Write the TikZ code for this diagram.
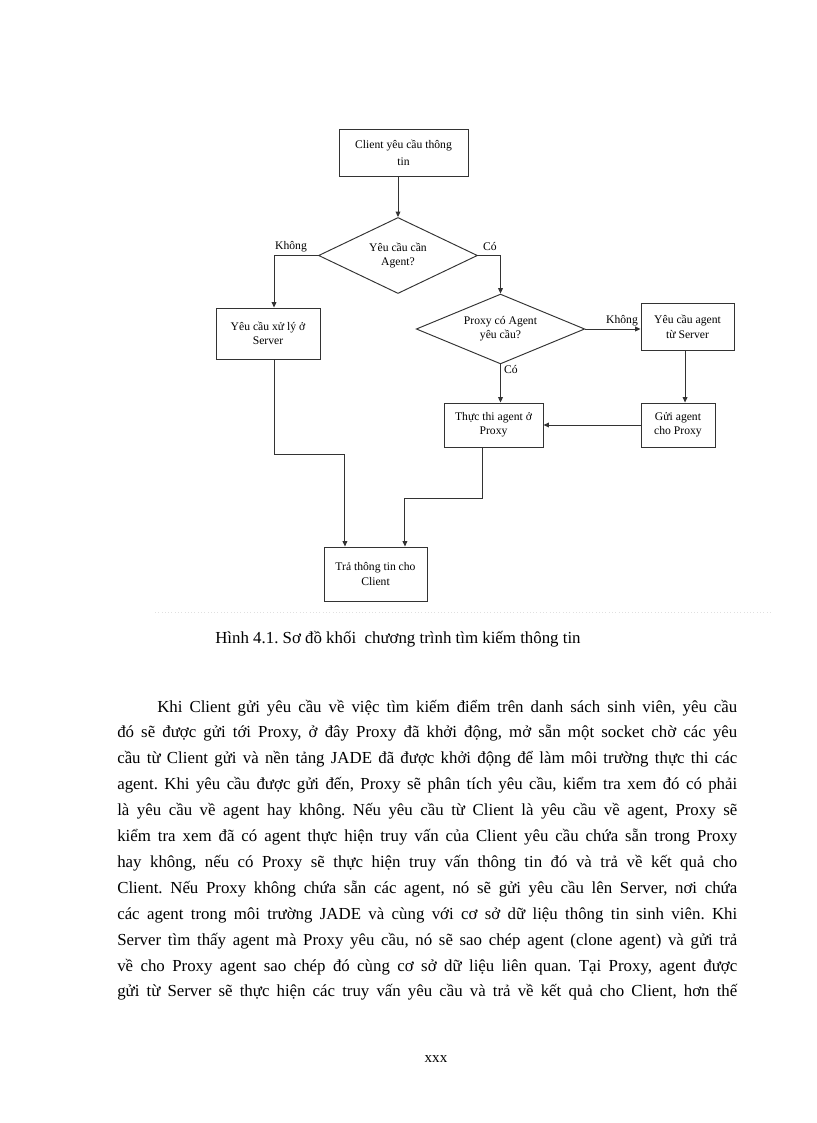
\documentclass[tikz,border=0pt]{standalone}
\usepackage{fontspec}
\setmainfont{Liberation Serif}
\usetikzlibrary{shapes.geometric,arrows.meta}
\frenchspacing
\newcommand{\linecolor}{black!80}
\newcommand{\bodyline}[5]
{   \node[anchor=base west,inner sep=0pt] (#1) at (#2,#3) {\fontsize{12.3}{14}\selectfont\makebox[#4][s]{#5}};
}

\begin{document}
\begin{tikzpicture}[x=0.73pt,y=-0.73pt,
  box/.style={draw=\linecolor,line width=0.7pt,inner sep=1pt,align=center,font=\fontsize{8.5}{10.5}\selectfont},
  ask/.style={diamond,aspect=2,draw=\linecolor,line width=0.7pt,inner sep=0pt,align=center,font=\fontsize{8.5}{10.5}\selectfont},
  flow/.style={draw=\linecolor,line width=0.7pt,-{Triangle[length=4pt,width=3.5pt]}},
  lbl/.style={font=\fontsize{8.5}{10}\selectfont,inner sep=0pt}]
 \useasboundingbox (0,0) rectangle (816,1123);

 \node[box,minimum width=94.2pt,minimum height=35pt] (client) at (403.5,153) {Client yêu cầu thông\\[2pt]tin};
 \node[ask,minimum width=116pt,minimum height=55.5pt] (needagent) at (398,255.5) {Yêu cầu cần\\Agent?};
 \node[box,minimum width=75.9pt,minimum height=37.2pt] (server) at (268,333.5) {Yêu cầu xử lý ở\\Server};
 \node[ask,minimum width=123pt,minimum height=51pt] (hasagent) at (500.5,329) {Proxy có Agent\\yêu cầu?};
 \node[box,minimum width=67.9pt,minimum height=35pt] (askagent) at (687.5,327) {Yêu cầu agent\\từ Server};
 \node[box,minimum width=72.3pt,minimum height=32.1pt] (runagent) at (493.5,425) {Thực thi agent ở\\Proxy};
 \node[box,minimum width=54pt,minimum height=32.1pt] (sendagent) at (678,425) {Gửi agent\\cho Proxy};
 \node[box,minimum width=75.2pt,minimum height=39.4pt] (reply) at (375.5,574) {Trả thông tin cho\\Client};

 \node[lbl] (no1) at (291,247) {Không};
 \node[lbl] (yes1) at (490,247) {Có};
 \node[lbl] (no2) at (622,321) {Không};
 \node[lbl] (yes2) at (511,370) {Có};

 \draw[flow] (client.south -| needagent.north) -- (needagent.north);
 \draw[flow] (needagent.west) -| ([xshift=4.4pt]server.north);
 \draw[flow] (needagent.east) -| (hasagent.north);
 \draw[flow] (hasagent.east) -- (hasagent.east -| askagent.west);
 \draw[flow] (hasagent.south) -- (hasagent.south |- runagent.north);
 \draw[flow] ([xshift=-1.8pt]askagent.south) -- ([xshift=-1.8pt]askagent.south |- sendagent.north);
 \draw[flow] (sendagent.west) -- (runagent.east);
 \draw[flow] ([xshift=4.4pt]server.south) -- ++(0,95) -| ([xshift=-22.3pt]reply.north);
 \draw[flow] ([xshift=-7.7pt]runagent.south) -- ++(0,51) -| ([xshift=21.5pt]reply.north);

 \draw[black!12,dotted] (155,612) -- (770,612);
 \node[anchor=base west,inner sep=0pt,font=\fontsize{12.3}{14}\selectfont] (caption) at (215,643) {Hình 4.1. Sơ đồ khối\ \ chương trình tìm kiếm thông tin};

 \bodyline{l1}{157}{712}{423.4pt}{Khi Client gửi yêu cầu về việc tìm kiếm điểm trên danh sách sinh viên, yêu cầu}
 \bodyline{l2}{117}{737.9}{452.6pt}{đó sẽ được gửi tới Proxy, ở đây Proxy đã khởi động, mở sẵn một socket chờ các yêu}
 \bodyline{l3}{117}{763.8}{452.6pt}{cầu từ Client gửi và nền tảng JADE đã được khởi động để làm môi trường thực thi các}
 \bodyline{l4}{117}{789.7}{452.6pt}{agent. Khi yêu cầu được gửi đến, Proxy sẽ phân tích yêu cầu, kiểm tra xem đó có phải}
 \bodyline{l5}{117}{815.6}{452.6pt}{là yêu cầu về agent hay không. Nếu yêu cầu từ Client là yêu cầu về agent, Proxy sẽ}
 \bodyline{l6}{117}{841.5}{452.6pt}{kiểm tra xem đã có agent thực hiện truy vấn\ của Client yêu cầu chứa sẵn trong Proxy}
 \bodyline{l7}{117}{867.4}{452.6pt}{hay không, nếu có Proxy sẽ thực hiện truy vấn thông tin đó và trả về kết quả cho}
 \bodyline{l8}{117}{893.3}{452.6pt}{Client. Nếu Proxy không chứa sẵn các agent, nó sẽ gửi yêu cầu lên Server, nơi chứa}
 \bodyline{l9}{117}{919.2}{452.6pt}{các agent trong môi trường JADE và cùng với cơ sở dữ liệu thông tin sinh viên. Khi}
 \bodyline{l10}{117}{945.1}{452.6pt}{Server tìm thấy agent mà Proxy yêu cầu, nó sẽ sao chép agent (clone agent) và gửi trả}
 \bodyline{l11}{117}{971}{452.6pt}{về cho Proxy agent sao chép đó cùng cơ sở dữ liệu liên quan. Tại Proxy, agent được}
 \bodyline{l12}{117}{996.9}{452.6pt}{gửi từ Server sẽ thực hiện các truy vấn\ yêu cầu và trả về kết quả cho Client, hơn thế}

 \node[inner sep=0pt,font=\fontsize{11}{13}\selectfont] (pageno) at (436,1059) {xxx};

\end{tikzpicture}
\end{document}
